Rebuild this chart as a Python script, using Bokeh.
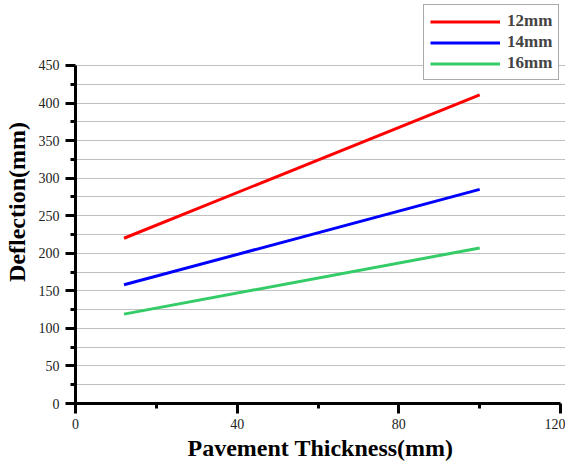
from bokeh.plotting import figure
from bokeh.models import FixedTicker, Range1d, Legend, LegendItem
from bokeh.embed import file_html
from bokeh.resources import INLINE

x_thick = [12, 100]
defl_12 = [220, 411]
defl_14 = [158, 285]
defl_16 = [119, 207]
series_names = ["12mm", "14mm", "16mm"]
series_colors = ["#ff0000", "#0000ff", "#33cc66"]
x_ticks = [0, 40, 80, 120]
x_minor = [20, 60, 100]
y_ticks = list(range(0, 451, 50))
y_minor = list(range(25, 450, 50))

FONT = "Liberation Serif"

# frame spans the whole top of the canvas so the legend can sit above the 450 line;
# axes are bounded to the data span 0..120 / 0..450
p = figure(width=565, height=463, output_backend="svg", toolbar_location=None,
           x_range=Range1d(0, 121.23), y_range=Range1d(0, 536.5),
           min_border_left=74, min_border_right=0, min_border_top=0, min_border_bottom=60)
p.outline_line_color = None
p.background_fill_color = "white"
p.border_fill_color = "white"

renderers = []
for ys, c in zip([defl_12, defl_14, defl_16], series_colors):
    r = p.line(x_thick, ys, line_color=c, line_width=3)
    renderers.append(r)

for ax in (p.xaxis[0], p.yaxis[0]):
    ax.axis_line_width = 3
    ax.axis_line_color = "black"
    ax.major_tick_line_width = 3
    ax.minor_tick_line_width = 3
    ax.major_tick_out = 10
    ax.major_tick_in = 0
    ax.minor_tick_out = 5
    ax.minor_tick_in = 0
    ax.major_label_text_font = FONT
    ax.major_label_text_font_size = "14px"
    ax.major_label_text_color = "#222222"
    ax.axis_label_text_font = FONT
    ax.axis_label_text_font_style = "bold"
    ax.axis_label_text_font_size = "24px"
    ax.axis_label_text_color = "black"

p.xaxis.bounds = (0, 120)
p.yaxis.bounds = (0, 450)
p.xaxis.ticker = FixedTicker(ticks=x_ticks, minor_ticks=x_minor)
p.yaxis.ticker = FixedTicker(ticks=y_ticks, minor_ticks=y_minor)
p.xaxis.axis_label = "Pavement Thickness(mm)"
p.yaxis.axis_label = "Deflection(mm)"
p.xaxis.major_label_standoff = 5
p.xaxis.axis_label_standoff = 3
p.yaxis.major_label_standoff = 6
p.yaxis.axis_label_standoff = 6

p.xgrid.grid_line_color = None
p.ygrid.grid_line_color = "#c0c0c0"
p.ygrid.minor_grid_line_color = "#c0c0c0"
p.ygrid.grid_line_width = 1
p.ygrid.minor_grid_line_width = 1
p.ygrid.bounds = (0, 120)

legend = Legend(items=[LegendItem(label=n, renderers=[r]) for n, r in zip(series_names, renderers)],
                location=(348, 323))
legend.label_text_font = FONT
legend.label_text_font_style = "bold"
legend.label_text_font_size = "17px"
legend.glyph_width = 70
legend.glyph_height = 17
legend.label_height = 17
legend.spacing = 1
legend.padding = 6
legend.margin = 0
legend.label_standoff = 7
legend.border_line_color = "#555555"
legend.border_line_width = 1.5
legend.background_fill_color = "white"
legend.background_fill_alpha = 1
p.add_layout(legend, "center")

open("out.html", "w").write(file_html(p, INLINE))
